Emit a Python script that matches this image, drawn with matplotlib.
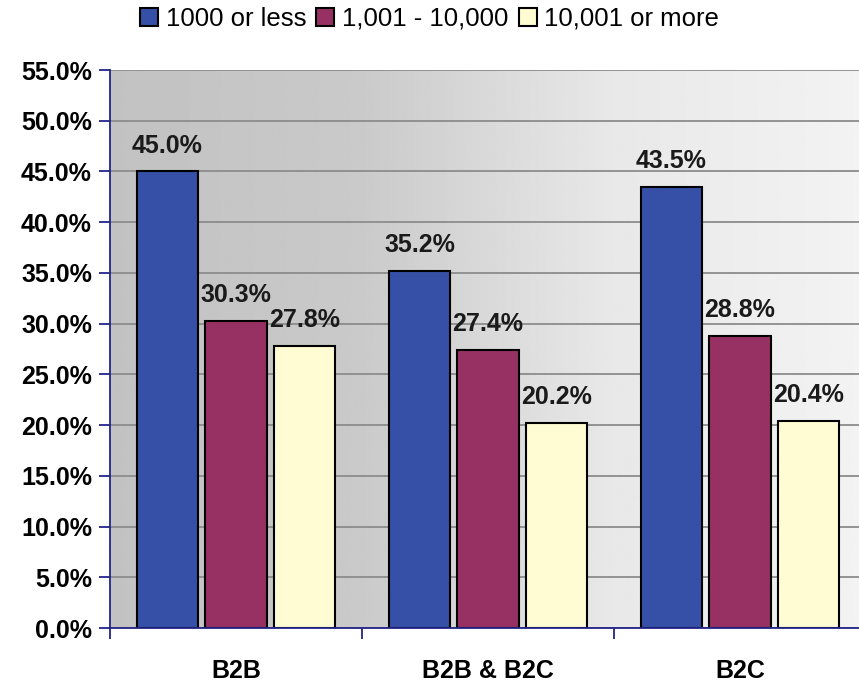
import matplotlib
matplotlib.use("Agg")
import matplotlib.pyplot as plt
import numpy as np
from matplotlib.ticker import FixedLocator

plt.rcParams['font.family'] = ['Liberation Sans', 'DejaVu Sans']

# data
categories = ['B2B', 'B2B & B2C', 'B2C']
series = ['1000 or less', '1,001 - 10,000', '10,001 or more']
small = [45.0, 35.2, 43.5]
medium = [30.3, 27.4, 28.8]
large = [27.8, 20.2, 20.4]
yticks = np.arange(0, 56, 5)

colors = ['#3550a6', '#973163', '#fffbd2']
navy = '#23238a'

fig = plt.figure(figsize=(8.59, 6.91), dpi=100)
ax = fig.add_axes([110/859, 63/691, 749/859, 558/691])

x = np.arange(len(categories))
ax.set_xlim(-0.5, 2.472)
ax.set_ylim(0, 55)

# gradient background, dark grey left to light right
gx = np.linspace(0, 1, 400)
shade = np.interp(gx, [0, 0.33, 0.67, 1.0], [0.76, 0.79, 0.91, 0.95])
ax.imshow(shade[np.newaxis, :], cmap='gray', vmin=0, vmax=1, aspect='auto',
          extent=[-0.5, 2.472, 0, 55], zorder=0)

for y in yticks:
    ax.axhline(y, color='#8c8c8c', lw=1.3, zorder=1)

w = 0.245
step = 0.272
for i, (vals, c, name) in enumerate(zip([small, medium, large], colors, series)):
    pos = x + (i - 1) * step
    bars = ax.bar(pos, vals, w, color=c, edgecolor='black', lw=1.5, zorder=3, label=name)
    for b, v in zip(bars, vals):
        ax.annotate(f'{v:.1f}%', (b.get_x() + b.get_width()/2, v), xytext=(0, 10),
                    textcoords='offset points', ha='center', va='bottom',
                    fontsize=18, fontweight='bold', color='#1a1a1a', zorder=4)

ax.set_yticks(yticks)
ax.set_yticklabels([f'{v:.1f}%' for v in yticks], fontsize=18, fontweight='bold')
ax.set_xticks(x)
ax.set_xticklabels(categories, fontsize=18, fontweight='bold')
ax.tick_params(axis='x', which='major', length=0, pad=22)
ax.xaxis.set_minor_locator(FixedLocator([-0.5, 0.5, 1.5]))
ax.tick_params(axis='x', which='minor', length=8, color=navy, width=1.3, direction='out')
ax.tick_params(axis='y', length=8, color=navy, width=1.3, direction='out', pad=5)

for s in ['top', 'right']:
    ax.spines[s].set_visible(False)
for s in ['left', 'bottom']:
    ax.spines[s].set_color(navy)
    ax.spines[s].set_linewidth(1.3)
    ax.spines[s].set_zorder(5)

fig.legend(loc='center', bbox_to_anchor=(0.5, 0.973), ncol=3, frameon=False,
           fontsize=18.5, handlelength=0.7, handleheight=0.7, handletextpad=0.3,
           columnspacing=0.4)

fig.savefig('out.png', dpi=100, facecolor='white')
